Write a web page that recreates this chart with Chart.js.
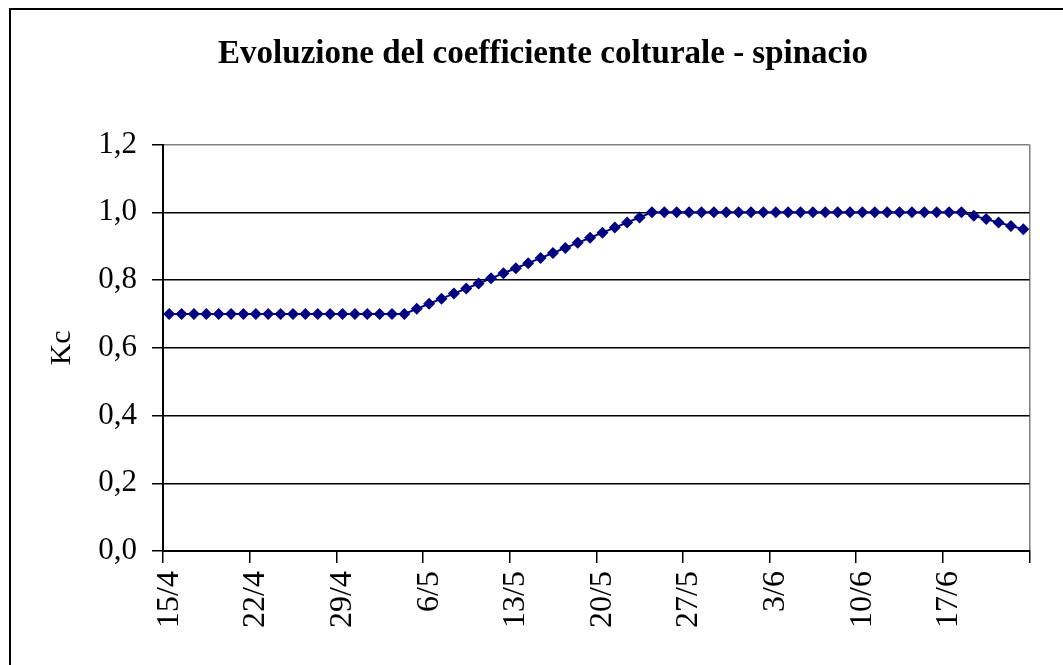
<!DOCTYPE html>
<html>
<head>
<meta charset="utf-8">
<script src="https://cdn.jsdelivr.net/npm/chart.js@4/dist/chart.umd.min.js"></script>
<style>
  html, body { margin: 0; padding: 0; background: #fff; overflow: hidden; }
  #frame { position: absolute; left: 9px; top: 8px; width: 1100px; height: 700px; border: 2px solid #000; }
  #wrap { position: absolute; left: 0; top: 0; width: 1070px; height: 665px; }
</style>
</head>
<body>
<div id="frame"></div>
<div id="wrap"><canvas id="c" width="1070" height="665"></canvas></div>
<script>
const chartTitle = 'Evoluzione del coefficiente colturale - spinacio';
const yAxisTitle = 'Kc';

// daily dates from 15/4 to 23/6
const dates = [
  '15/4','16/4','17/4','18/4','19/4','20/4','21/4','22/4','23/4','24/4',
  '25/4','26/4','27/4','28/4','29/4','30/4','1/5','2/5','3/5','4/5',
  '5/5','6/5','7/5','8/5','9/5','10/5','11/5','12/5','13/5','14/5',
  '15/5','16/5','17/5','18/5','19/5','20/5','21/5','22/5','23/5','24/5',
  '25/5','26/5','27/5','28/5','29/5','30/5','31/5','1/6','2/6','3/6',
  '4/6','5/6','6/6','7/6','8/6','9/6','10/6','11/6','12/6','13/6',
  '14/6','15/6','16/6','17/6','18/6','19/6','20/6','21/6','22/6','23/6'
];

// crop coefficient Kc
const kc = [
  0.70,0.70,0.70,0.70,0.70,0.70,0.70,0.70,0.70,0.70,
  0.70,0.70,0.70,0.70,0.70,0.70,0.70,0.70,0.70,0.70,
  0.715,0.73,0.745,0.76,0.775,0.79,0.805,0.82,0.835,0.85,
  0.865,0.88,0.895,0.91,0.925,0.94,0.955,0.97,0.985,1.00,
  1.00,1.00,1.00,1.00,1.00,1.00,1.00,1.00,1.00,1.00,
  1.00,1.00,1.00,1.00,1.00,1.00,1.00,1.00,1.00,1.00,
  1.00,1.00,1.00,1.00,1.00,0.99,0.98,0.97,0.96,0.95
];

// label shown every 7 days
const labelEvery = 7;
const yTicks = [0, 0.2, 0.4, 0.6, 0.8, 1.0, 1.2];

const serif = "'Liberation Serif', 'Times New Roman', serif";

new Chart(document.getElementById('c'), {
  type: 'line',
  data: {
    labels: dates,
    datasets: [{
      data: kc,
      borderColor: '#000080',
      backgroundColor: '#000080',
      borderWidth: 2,
      pointStyle: 'rectRot',
      pointRadius: 6,
      pointBorderWidth: 0,
      pointBackgroundColor: '#000080',
      tension: 0,
      fill: false
    }]
  },
  options: {
    responsive: false,
    animation: false,
    devicePixelRatio: 1,
    layout: { padding: { top: 0, left: 56, right: 40, bottom: 0 } },
    plugins: {
      legend: { display: false },
      tooltip: { enabled: false },
      title: {
        display: true,
        text: chartTitle,
        color: '#000',
        font: { family: serif, size: 33, weight: 'bold', lineHeight: 1.2 },
        padding: { top: 35, bottom: 70 }
      }
    },
    scales: {
      x: {
        type: 'category',
        offset: true,
        afterFit: (s) => { s.height = 114; },
        grid: {
          offset: true,
          drawOnChartArea: true,
          drawTicks: true,
          tickLength: 12,
          lineWidth: 1.5,
          color: (ctx) => ctx.type !== 'tick' ? '#808080' : 'rgba(0,0,0,0)',
          tickColor: (ctx) => (ctx.type !== 'tick' || ctx.index % labelEvery === 0) ? '#000' : 'rgba(0,0,0,0)',
          tickWidth: 1.5
        },
        border: { display: true, color: '#000', width: 2 },
        ticks: {
          autoSkip: false,
          minRotation: 90,
          maxRotation: 90,
          padding: 8,
          color: '#000',
          font: { family: serif, size: 32 },
          callback: function (v, i) { return i % labelEvery === 0 ? dates[i] : ''; }
        }
      },
      y: {
        min: 0,
        max: 1.2,
        afterFit: (s) => { s.width = 107; },
        afterBuildTicks: (s) => { s.ticks = yTicks.map(v => ({ value: v })); },
        title: {
          display: true,
          text: yAxisTitle,
          color: '#000',
          font: { family: serif, size: 30, lineHeight: 1.2 },
          padding: { top: -12, bottom: 0 }
        },
        grid: {
          drawTicks: true,
          tickLength: 11,
          lineWidth: 1.5,
          color: (ctx) => (ctx.tick && ctx.tick.value >= 1.19) ? '#808080' : '#000',
          tickColor: '#000',
          tickWidth: 1.5
        },
        border: { display: true, color: '#000', width: 2 },
        ticks: {
          padding: 15,
          color: '#000',
          font: { family: serif, size: 31 },
          callback: (v) => Number(v).toFixed(1).replace('.', ',')
        }
      }
    }
  }
});
</script>
</body>
</html>
